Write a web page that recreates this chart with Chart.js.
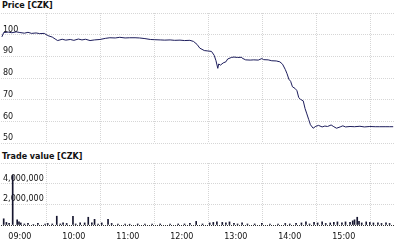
<!DOCTYPE html>
<html>
<head>
<meta charset="utf-8">
<script src="https://cdn.jsdelivr.net/npm/chart.js@4"></script>
<style>
  html, body { margin: 0; padding: 0; background: #fff; }
  body { width: 400px; height: 241px; position: relative; overflow: hidden; font-family: "DejaVu Sans", Verdana, sans-serif; }
  .title { position: absolute; left: 2px; font-size: 8px; font-weight: bold; color: #111; }
  #priceBox { position: absolute; left: 0; top: 0; width: 400px; height: 150px; }
  #tradeBox { position: absolute; left: 0; top: 150px; width: 400px; height: 91px; }
</style>
</head>
<body>
<div class="title" style="top:1px">Price [CZK]</div>
<div class="title" style="top:152px">Trade value [CZK]</div>
<div id="priceBox"><canvas id="price"></canvas></div>
<div id="tradeBox"><canvas id="trade"></canvas></div>
<script>
// price series (time, CZK)
const priceTimes = ["8:40","8:42","8:47","8:51","8:56","9:00","9:05","9:09","9:13","9:18","9:22","9:27","9:31","9:36","9:40","9:42","9:47","9:51","9:56","10:00","10:05","10:09","10:13","10:18","10:23","10:29","10:35","10:40","10:46","10:51","10:57","11:02","11:08","11:13","11:19","11:25","11:30","11:36","11:41","11:47","11:52","11:58","12:03","12:09","12:13","12:17","12:20","12:25","12:29","12:33","12:36","12:38","12:40","12:41","12:43","12:46","12:49","12:51","12:55","12:58","13:02","13:06","13:08","13:11","13:16","13:20","13:25","13:29","13:31","13:36","13:40","13:45","13:49","13:52","13:55","13:57","13:59","14:01","14:03","14:06","14:08","14:10","14:12","14:15","14:17","14:19","14:21","14:23","14:26","14:29","14:32","14:36","14:39","14:42","14:46","14:49","14:52","14:56","14:59","15:02","15:07","15:12","15:18","15:23","15:29","15:35","15:40","15:46","15:51","15:55"];
const priceValues = [99.0,101.0,101.2,100.9,101.3,101.0,100.7,101.1,100.6,100.8,100.5,100.6,99.6,98.9,97.8,97.3,97.9,97.5,97.8,97.4,98.0,97.6,97.9,97.3,97.6,97.8,98.3,98.6,98.5,98.8,98.5,98.6,98.6,98.5,98.2,97.8,97.7,97.6,97.5,97.6,97.4,97.5,97.3,97.4,96.9,95.5,93.8,92.7,92.5,92.3,90.5,88.0,84.5,86.5,86.0,87.0,87.5,88.8,89.5,89.7,89.5,89.6,89.0,88.4,88.3,88.4,88.3,89.0,88.5,88.4,88.0,87.9,87.5,86.4,84.0,82.0,79.5,78.5,76.0,75.2,74.2,71.0,70.2,69.5,66.0,63.5,61.0,58.5,56.9,57.8,58.2,57.5,57.9,57.7,58.4,57.6,56.9,57.5,58.0,57.5,57.7,57.6,57.8,57.5,57.7,57.6,57.6,57.6,57.6,57.6];

// trade value bars (time, CZK)
const tradeTimes = ["8:42","8:45","8:48","8:52","8:57","8:59","9:01","9:05","9:09","9:15","9:20","9:28","9:31","9:36","9:41","9:45","9:48","9:52","9:59","10:02","10:07","10:12","10:16","10:20","10:23","10:27","10:31","10:38","10:42","10:49","10:57","11:02","11:11","11:19","11:27","11:36","11:47","11:56","12:03","12:09","12:16","12:23","12:31","12:35","12:39","12:45","12:49","12:53","12:58","13:02","13:07","13:13","13:21","13:29","13:38","13:47","13:55","14:00","14:07","14:13","14:18","14:22","14:27","14:31","14:36","14:40","14:45","14:49","14:53","14:58","15:02","15:07","15:10","15:12","15:15","15:17","15:20","15:25","15:29","15:33","15:38","15:42","15:47","15:51"];
const tradeValues = [600000,250000,150000,4800000,500000,300000,200000,100000,150000,50000,150000,100000,150000,100000,850000,100000,200000,150000,850000,100000,200000,200000,750000,200000,550000,100000,200000,550000,150000,100000,100000,80000,100000,100000,80000,100000,80000,100000,100000,150000,350000,100000,200000,250000,300000,250000,200000,300000,150000,100000,200000,100000,100000,150000,100000,100000,150000,100000,150000,200000,300000,100000,250000,200000,300000,150000,200000,250000,300000,200000,300000,250000,400000,500000,750000,350000,200000,300000,250000,200000,200000,150000,200000,150000];

// axis labels
const hourLabels = ["09:00","10:00","11:00","12:00","13:00","14:00","15:00"];
const priceTicks = [50, 60, 70, 80, 90, 100, 110];
const tradeTicks = [0, 2000000, 4000000, 6000000];

function toMin(s) {
  const p = s.split(":");
  return +p[0] * 60 + +p[1];
}

const X_MIN = 519, X_MAX = 957;
const LINE_COLOR = "#1d1d5c";
const GRID = "#d6d6d6";
const FONT = { family: "'DejaVu Sans', Verdana, sans-serif", size: 8 };

// ticks every half hour: labels on the hour, grid lines on the half hour
function timeAxis(showLabels, axisHeight) {
  return {
    type: "linear",
    min: X_MIN,
    max: X_MAX,
    offset: false,
    afterBuildTicks: function (axis) {
      const t = [];
      hourLabels.forEach((h) => {
        t.push({ value: toMin(h) });
        t.push({ value: toMin(h) + 30 });
      });
      axis.ticks = t;
    },
    afterFit: function (axis) { axis.height = axisHeight; },
    grid: {
      offset: false,
      drawTicks: false,
      color: (c) => (c.tick && c.tick.value % 60 === 30 ? GRID : "rgba(0,0,0,0)"),
    },
    border: { display: false, dash: [1, 1] },
    ticks: {
      display: showLabels,
      autoSkip: false,
      maxRotation: 0,
      padding: 7,
      color: "#111",
      font: FONT,
      callback: function (v) {
        if (v % 60 !== 0) return "";
        const h = Math.floor(v / 60);
        return (h < 10 ? "0" + h : h) + ":00";
      },
    },
  };
}

Chart.defaults.animation = false;

new Chart(document.getElementById("price"), {
  type: "line",
  data: {
    datasets: [
      {
        data: priceTimes.map((t, i) => ({ x: toMin(t), y: priceValues[i] })),
        borderColor: LINE_COLOR,
        borderWidth: 1,
        pointRadius: 0,
        tension: 0,
      },
    ],
  },
  options: {
    responsive: true,
    maintainAspectRatio: false,
    layout: { padding: { left: 1, right: 5, top: 13, bottom: 6 } },
    plugins: { legend: { display: false }, tooltip: { enabled: false } },
    scales: {
      x: timeAxis(false, 0),
      y: {
        min: 50,
        max: 110,
        afterBuildTicks: (axis) => { axis.ticks = priceTicks.map((v) => ({ value: v })); },
        afterFit: (axis) => { axis.width = 0; },
        grid: { color: GRID, drawTicks: false },
        border: { display: false, dash: [1, 1] },
        ticks: {
          mirror: true,
          padding: 2,
          labelOffset: -5,
          color: "#111",
          font: FONT,
          callback: (v) => (v >= 110 ? "" : v),
        },
      },
    },
  },
});

new Chart(document.getElementById("trade"), {
  type: "bar",
  data: {
    datasets: [
      {
        data: tradeTimes.map((t, i) => ({ x: toMin(t), y: tradeValues[i] })),
        backgroundColor: "#15152e",
        barThickness: 1,
      },
    ],
  },
  options: {
    responsive: true,
    maintainAspectRatio: false,
    layout: { padding: { left: 1, right: 5, top: 13, bottom: 0 } },
    plugins: { legend: { display: false }, tooltip: { enabled: false } },
    scales: {
      x: timeAxis(true, 16),
      y: {
        min: 0,
        max: 6000000,
        afterBuildTicks: (axis) => { axis.ticks = tradeTicks.map((v) => ({ value: v })); },
        afterFit: (axis) => { axis.width = 0; },
        grid: { color: (c) => (c.tick && c.tick.value === 0 ? "#333" : GRID), drawTicks: false },
        border: { display: false, dash: [1, 1] },
        ticks: {
          mirror: true,
          padding: 2,
          labelOffset: -5,
          color: "#111",
          font: FONT,
          callback: (v) => (v === 0 || v >= 6000000 ? "" : v.toLocaleString("en-US")),
        },
      },
    },
  },
});
</script>
</body>
</html>
